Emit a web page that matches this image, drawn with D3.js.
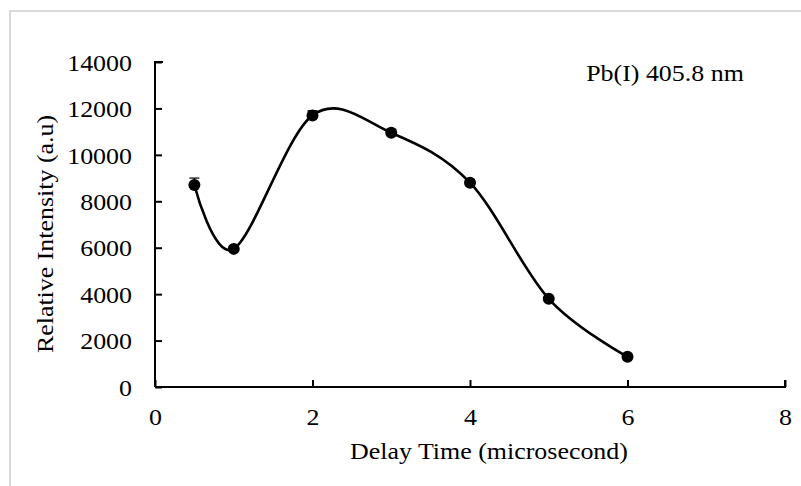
<!DOCTYPE html>
<html>
<head>
<meta charset="utf-8">
<script src="https://cdn.jsdelivr.net/npm/d3@7"></script>
<style>
  body { margin: 0; background: #fff; }
</style>
</head>
<body>
<svg id="chart"></svg>
<script>
// data
var delayTimes = [0.5, 1, 2, 3, 4, 5, 6];
var intensities = [8700, 5950, 11700, 10950, 8800, 3800, 1300];
var errors = [300, 120, 200, 150, 120, 100, 100];
var xTicks = [0, 2, 4, 6, 8];
var yTicks = [0, 2000, 4000, 6000, 8000, 10000, 12000, 14000];

var serif = "'Liberation Serif', 'Times New Roman', serif";
var width = 801, height = 486;
var svg = d3.select("#chart").attr("width", width).attr("height", height);

// light grey frame (right and bottom edges fall outside)
svg.append("rect")
    .attr("x", 10).attr("y", 11)
    .attr("width", 820).attr("height", 500)
    .attr("fill", "none")
    .attr("stroke", "#d9d9d9")
    .attr("stroke-width", 2);

var x = d3.scaleLinear().domain([0, 8]).range([155, 785]);
var y = d3.scaleLinear().domain([0, 14000]).range([387, 62]);

// y axis
var gy = svg.append("g")
    .attr("transform", "translate(155,0)")
    .call(d3.axisLeft(y).tickValues(yTicks).tickSize(-7).tickPadding(23).tickFormat(d3.format("d")));
gy.select(".domain").attr("stroke-width", 2).attr("d", "M8,62H0V387");
gy.selectAll(".tick line").attr("stroke-width", 2);
gy.selectAll(".tick text").attr("dy", "0.34em");

// x axis
var gx = svg.append("g")
    .attr("transform", "translate(0,387)")
    .call(d3.axisBottom(x).tickValues(xTicks).tickSize(-7).tickPadding(21).tickFormat(d3.format("d")));
gx.select(".domain").attr("stroke-width", 2).attr("d", "M155,0H785V-7");
gx.selectAll(".tick line").attr("stroke-width", 2);
gx.selectAll(".tick text").attr("dy", "0.71em");

// axis titles
svg.append("text")
    .attr("x", 489).attr("y", 459)
    .attr("text-anchor", "middle")
    .text("Delay Time (microsecond)");

svg.append("text")
    .attr("transform", "translate(53,234)rotate(-90)")
    .attr("text-anchor", "middle")
    .text("Relative Intensity (a.u)");

svg.append("text")
    .attr("x", 665).attr("y", 81)
    .attr("text-anchor", "middle")
    .text("Pb(I) 405.8 nm");

var pts = delayTimes.map(function(d, i) { return {t: d, v: intensities[i], e: errors[i]}; });

// error bars (plus direction)
var eb = svg.append("g").attr("stroke", "#000").attr("stroke-width", 1.2);
eb.selectAll("line.v").data(pts).enter().append("line")
    .attr("x1", d => x(d.t)).attr("x2", d => x(d.t))
    .attr("y1", d => y(d.v)).attr("y2", d => y(d.v + d.e));
eb.selectAll("line.c").data(pts).enter().append("line")
    .attr("x1", d => x(d.t) - 5).attr("x2", d => x(d.t) + 5)
    .attr("y1", d => y(d.v + d.e)).attr("y2", d => y(d.v + d.e));

// smoothed line
var line = d3.line()
    .x(d => x(d.t))
    .y(d => y(d.v))
    .curve(d3.curveCardinal.tension(0));
svg.append("path")
    .datum(pts)
    .attr("d", line)
    .attr("fill", "none")
    .attr("stroke", "#000")
    .attr("stroke-width", 2.6);

// markers
svg.append("g").selectAll("circle")
    .data(pts).enter().append("circle")
    .attr("cx", d => x(d.t))
    .attr("cy", d => y(d.v))
    .attr("r", 6)
    .attr("fill", "#000");

// all text: Times-like serif, slightly wide as in the picture
svg.selectAll("text")
    .attr("font-family", null)
    .style("font-family", serif)
    .style("font-size", "24px")
    .attr("fill", "#000")
    .each(function() {
        var w = this.getComputedTextLength();
        d3.select(this).attr("textLength", w * 1.08).attr("lengthAdjust", "spacingAndGlyphs");
    });
</script>
</body>
</html>
